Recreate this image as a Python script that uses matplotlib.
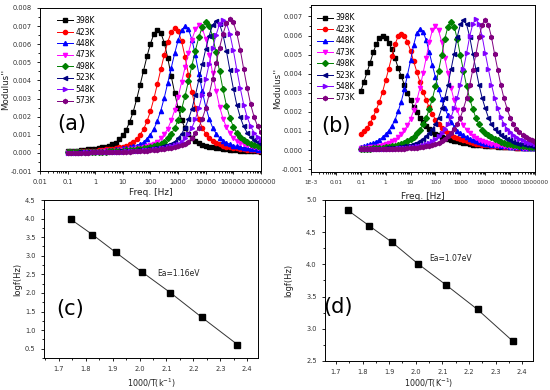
import numpy as np
import matplotlib
matplotlib.use("Agg")
import matplotlib.pyplot as plt
from matplotlib.ticker import LogLocator, NullFormatter, MultipleLocator

# ---- data ----------------------------------------------------------------
temps = ["398K", "423K", "448K", "473K", "498K", "523K", "548K", "573K"]
colors = ["#000000", "#ff0000", "#0000ff", "#ff00ff", "#008000", "#000080", "#8000ff", "#800080"]
markers = ["s", "o", "^", "v", "D", "<", ">", "h"]

# measurement sweep, 8 points per decade from 0.1 Hz to 1 MHz
freq = np.logspace(-1, 6, 57)

# panel (a): M'' in units of 1e-3
ma_398 = [0.095, 0.102, 0.116, 0.129, 0.150, 0.170, 0.190, 0.211, 0.238, 0.265, 0.299, 0.347, 0.394, 0.476, 0.571,
          0.768, 0.986, 1.285, 1.727, 2.271, 2.965, 3.754, 4.549, 5.338, 6.032, 6.576, 6.8, 6.623, 6.079, 5.236,
          4.25, 3.312, 2.468, 1.829, 1.36, 1.040, 0.809, 0.653, 0.544, 0.462, 0.394, 0.347, 0.306, 0.272, 0.245,
          0.218, 0.197, 0.177, 0.163, 0.150, 0.129, 0.116, 0.109, 0.095, 0.088, 0.082, 0.075]
ma_423 = [0.062, 0.062, 0.069, 0.076, 0.083, 0.097, 0.104, 0.117, 0.131, 0.152, 0.173, 0.193, 0.214, 0.242, 0.269,
          0.304, 0.352, 0.400, 0.483, 0.580, 0.780, 1.001, 1.304, 1.753, 2.305, 3.008, 3.809, 4.616, 5.417, 6.12,
          6.672, 6.9, 6.721, 6.169, 5.313, 4.313, 3.36, 2.505, 1.856, 1.38, 1.056, 0.821, 0.662, 0.552, 0.469,
          0.400, 0.352, 0.311, 0.276, 0.248, 0.221, 0.2, 0.179, 0.166, 0.152, 0.131, 0.117]
ma_448 = [0.049, 0.049, 0.056, 0.063, 0.063, 0.070, 0.077, 0.084, 0.098, 0.105, 0.119, 0.133, 0.154, 0.175, 0.196,
          0.217, 0.245, 0.273, 0.308, 0.357, 0.406, 0.49, 0.588, 0.791, 1.015, 1.323, 1.778, 2.338, 3.052, 3.864,
          4.683, 5.495, 6.209, 6.769, 7.0, 6.818, 6.258, 5.39, 4.375, 3.409, 2.541, 1.883, 1.4, 1.071, 0.833,
          0.672, 0.56, 0.476, 0.406, 0.357, 0.315, 0.28, 0.252, 0.224, 0.203, 0.182, 0.168]
ma_473 = [0.028, 0.035, 0.042, 0.042, 0.049, 0.049, 0.056, 0.063, 0.063, 0.071, 0.078, 0.085, 0.099, 0.106, 0.12,
          0.134, 0.155, 0.176, 0.197, 0.219, 0.247, 0.275, 0.31, 0.36, 0.409, 0.494, 0.592, 0.797, 1.022, 1.332,
          1.791, 2.355, 3.074, 3.892, 4.716, 5.534, 6.253, 6.817, 7.05, 6.867, 6.303, 5.429, 4.406, 3.433, 2.559,
          1.896, 1.41, 1.079, 0.839, 0.677, 0.564, 0.479, 0.409, 0.36, 0.317, 0.282, 0.254]
ma_498 = [0.029, 0.029, 0.029, 0.036, 0.043, 0.043, 0.05, 0.05, 0.058, 0.065, 0.065, 0.072, 0.079, 0.086, 0.101,
          0.108, 0.122, 0.137, 0.158, 0.18, 0.202, 0.223, 0.252, 0.281, 0.317, 0.367, 0.418, 0.504, 0.605, 0.814,
          1.044, 1.361, 1.829, 2.405, 3.139, 3.974, 4.817, 5.652, 6.386, 6.962, 7.2, 7.013, 6.437, 5.544, 4.5,
          3.506, 2.614, 1.937, 1.44, 1.102, 0.857, 0.691, 0.576, 0.49, 0.418, 0.367, 0.324]
ma_523 = [0.022, 0.022, 0.022, 0.029, 0.029, 0.029, 0.037, 0.044, 0.044, 0.051, 0.051, 0.058, 0.066, 0.066, 0.073,
          0.08, 0.088, 0.102, 0.11, 0.124, 0.139, 0.161, 0.183, 0.204, 0.226, 0.256, 0.285, 0.321, 0.372, 0.423,
          0.511, 0.613, 0.825, 1.059, 1.38, 1.854, 2.438, 3.183, 4.03, 4.884, 5.731, 6.475, 7.059, 7.3, 7.11,
          6.526, 5.621, 4.563, 3.555, 2.65, 1.964, 1.46, 1.117, 0.869, 0.701, 0.584, 0.496]
ma_548 = [0.015, 0.022, 0.022, 0.022, 0.022, 0.029, 0.029, 0.029, 0.037, 0.044, 0.044, 0.051, 0.051, 0.059, 0.066,
          0.066, 0.074, 0.081, 0.088, 0.103, 0.11, 0.125, 0.14, 0.162, 0.184, 0.206, 0.228, 0.257, 0.287, 0.323,
          0.375, 0.426, 0.515, 0.617, 0.831, 1.066, 1.389, 1.867, 2.455, 3.205, 4.057, 4.917, 5.77, 6.519, 7.107,
          7.35, 7.159, 6.571, 5.66, 4.594, 3.579, 2.668, 1.977, 1.47, 1.125, 0.875, 0.706]
ma_573 = [0.015, 0.015, 0.015, 0.022, 0.022, 0.022, 0.022, 0.03, 0.03, 0.03, 0.037, 0.044, 0.044, 0.052, 0.052,
          0.059, 0.067, 0.067, 0.074, 0.081, 0.089, 0.104, 0.111, 0.126, 0.141, 0.163, 0.185, 0.207, 0.229, 0.259,
          0.289, 0.326, 0.377, 0.429, 0.518, 0.622, 0.836, 1.073, 1.399, 1.88, 2.472, 3.226, 4.085, 4.951, 5.809,
          6.564, 7.156, 7.4, 7.208, 6.616, 5.698, 4.625, 3.604, 2.686, 1.991, 1.48, 1.132]

# panel (b): M'' in units of 1e-3
mb_398 = [3.08, 3.57, 4.07, 4.58, 5.12, 5.56, 5.85, 5.95, 5.87, 5.63, 5.27, 4.81, 4.31, 3.87, 3.42, 2.98, 2.61,
          2.26, 1.97, 1.70, 1.45, 1.26, 1.09, 0.95, 0.86, 0.78, 0.70, 0.64, 0.58, 0.53, 0.48, 0.45, 0.42, 0.37,
          0.35, 0.32, 0.29, 0.27, 0.26, 0.24, 0.23, 0.21, 0.20, 0.19, 0.18, 0.17, 0.16, 0.15, 0.14, 0.14, 0.13,
          0.12, 0.12, 0.11, 0.10, 0.10, 0.09]
mb_423 = [0.82, 0.98, 1.18, 1.42, 1.74, 2.12, 2.54, 3.05, 3.66, 4.27, 4.93, 5.54, 5.95, 6.1, 5.99, 5.67, 5.2,
          4.64, 4.1, 3.57, 3.05, 2.62, 2.23, 1.89, 1.59, 1.35, 1.15, 0.98, 0.87, 0.77, 0.69, 0.62, 0.56, 0.50,
          0.46, 0.42, 0.38, 0.34, 0.32, 0.29, 0.26, 0.24, 0.23, 0.22, 0.21, 0.20, 0.18, 0.17, 0.15, 0.15, 0.13,
          0.13, 0.12, 0.12, 0.11, 0.10, 0.09]
mb_448 = [0.18, 0.21, 0.25, 0.30, 0.36, 0.44, 0.54, 0.67, 0.83, 1.02, 1.27, 1.59, 2.03, 2.54, 3.18, 3.94, 4.7,
          5.52, 6.13, 6.35, 6.2, 5.77, 5.13, 4.45, 3.81, 3.18, 2.65, 2.2, 1.81, 1.48, 1.23, 1.02, 0.89, 0.77,
          0.68, 0.6, 0.53, 0.48, 0.43, 0.38, 0.34, 0.3, 0.28, 0.25, 0.24, 0.22, 0.21, 0.19, 0.17, 0.16, 0.15,
          0.14, 0.13, 0.12, 0.11, 0.10, 0.095]
mb_473 = [0.09, 0.10, 0.12, 0.14, 0.16, 0.18, 0.21, 0.25, 0.31, 0.37, 0.46, 0.55, 0.68, 0.85, 1.04, 1.3, 1.63,
          2.08, 2.6, 3.25, 4.03, 4.81, 5.66, 6.27, 6.5, 6.27, 5.66, 4.81, 4.03, 3.25, 2.6, 2.08, 1.63, 1.3, 1.04,
          0.88, 0.75, 0.65, 0.55, 0.49, 0.42, 0.37, 0.33, 0.29, 0.26, 0.24, 0.22, 0.2, 0.18, 0.16, 0.15, 0.14,
          0.13, 0.12, 0.10, 0.10, 0.09]
mb_498 = [0.057, 0.06, 0.067, 0.074, 0.084, 0.094, 0.107, 0.121, 0.141, 0.161, 0.188, 0.221, 0.261, 0.315, 0.382,
          0.469, 0.57, 0.704, 0.871, 1.072, 1.34, 1.675, 2.144, 2.68, 3.35, 4.154, 4.958, 5.829, 6.466, 6.7,
          6.466, 5.829, 4.958, 4.154, 3.35, 2.68, 2.144, 1.675, 1.34, 1.072, 0.911, 0.771, 0.67, 0.57, 0.503,
          0.436, 0.382, 0.335, 0.302, 0.268, 0.248, 0.228, 0.208, 0.188, 0.168, 0.154, 0.141]
mb_523 = [0.044, 0.048, 0.051, 0.055, 0.058, 0.061, 0.068, 0.075, 0.085, 0.095, 0.109, 0.123, 0.143, 0.164, 0.191,
          0.225, 0.266, 0.321, 0.389, 0.477, 0.58, 0.716, 0.887, 1.091, 1.364, 1.705, 2.182, 2.728, 3.41, 4.228,
          5.047, 5.933, 6.581, 6.82, 6.581, 5.933, 5.047, 4.228, 3.41, 2.728, 2.182, 1.705, 1.364, 1.091, 0.928,
          0.784, 0.682, 0.58, 0.512, 0.443, 0.389, 0.341, 0.307, 0.273, 0.252, 0.232, 0.211]
mb_548 = [0.038, 0.038, 0.041, 0.041, 0.045, 0.048, 0.051, 0.055, 0.058, 0.062, 0.069, 0.075, 0.086, 0.096, 0.11,
          0.123, 0.144, 0.164, 0.192, 0.226, 0.267, 0.322, 0.39, 0.48, 0.582, 0.719, 0.891, 1.096, 1.37, 1.713,
          2.192, 2.74, 3.425, 4.247, 5.069, 5.96, 6.61, 6.85, 6.61, 5.96, 5.069, 4.247, 3.425, 2.74, 2.192,
          1.713, 1.37, 1.096, 0.932, 0.788, 0.685, 0.582, 0.514, 0.445, 0.39, 0.343, 0.308]
mb_573 = [0.034, 0.034, 0.034, 0.037, 0.037, 0.041, 0.041, 0.044, 0.048, 0.051, 0.054, 0.058, 0.061, 0.068, 0.075,
          0.085, 0.095, 0.109, 0.122, 0.143, 0.163, 0.19, 0.224, 0.265, 0.32, 0.388, 0.476, 0.578, 0.714, 0.884,
          1.088, 1.36, 1.7, 2.176, 2.72, 3.4, 4.216, 5.032, 5.916, 6.562, 6.8, 6.562, 5.916, 5.032, 4.216, 3.4,
          2.72, 2.176, 1.7, 1.36, 1.088, 0.925, 0.782, 0.68, 0.578, 0.51, 0.442]

ma = [ma_398, ma_423, ma_448, ma_473, ma_498, ma_523, ma_548, ma_573]
mb = [mb_398, mb_423, mb_448, mb_473, mb_498, mb_523, mb_548, mb_573]

# panels (c), (d): Arrhenius plots
inv_T = [1.745, 1.825, 1.912, 2.008, 2.114, 2.232, 2.364]
logf_c = [3.98, 3.57, 3.09, 2.57, 2.01, 1.34, 0.61]
logf_d = [4.84, 4.60, 4.34, 4.01, 3.68, 3.30, 2.81]

xt_a = [0.01, 0.1, 1, 10, 100, 1000, 10000, 100000, 1000000]
xl_a = ["0.01", "0.1", "1", "10", "100", "1000", "10000", "100000", "1000000"]
xt_b = [0.001] + xt_a
xl_b = ["1E-3"] + xl_a
yt_a = [-0.001, 0.0, 0.001, 0.002, 0.003, 0.004, 0.005, 0.006, 0.007, 0.008]
yt_b = yt_a[:-1]

# ---- drawing ------------------------------------------------------------
tick_col = "#333333"
fig = plt.figure(figsize=(5.5, 3.9), dpi=100)


def style(ax, xsize=4.8):
    for s in ax.spines.values():
        s.set_linewidth(0.7)
    ax.tick_params(which="both", direction="out", labelsize=4.8, labelcolor=tick_col,
                   width=0.6, top=False, right=False)
    ax.tick_params(axis="x", labelsize=xsize)
    ax.tick_params(which="major", length=2.5)
    ax.tick_params(which="minor", length=1.5)


def modulus_panel(rect, data, xt, xl, yt, ylim, tag, tagpos, lab_x, xlab_y, leg_anchor, xsize):
    ax = fig.add_axes(rect)
    for vals, t, c, m in zip(data, temps, colors, markers):
        ax.plot(freq, np.array(vals) * 1e-3, color=c, marker=m, ms=3.0, mec=c, mfc=c,
                lw=0.7, label=t)
    ax.set_xscale("log")
    ax.set_xlim(xt[0], xt[-1])
    ax.set_ylim(*ylim)
    ax.set_xticks(xt, xl)
    ax.xaxis.set_minor_locator(LogLocator(base=10, subs=np.arange(2, 10), numticks=20))
    ax.xaxis.set_minor_formatter(NullFormatter())
    ax.set_yticks(yt, [f"{v:.3f}" for v in yt])
    ax.yaxis.set_minor_locator(MultipleLocator(0.0005))
    style(ax, xsize)
    ax.set_ylabel("Modulus''", fontsize=6.2, color="#222222")
    ax.yaxis.set_label_coords(lab_x, 0.5)
    ax.set_xlabel("Freq. [Hz]", fontsize=6.5, color="#222222")
    ax.xaxis.set_label_coords(0.5, xlab_y)
    ax.text(tagpos[0], tagpos[1], tag, transform=ax.transAxes, fontsize=15,
            ha="center", va="center")
    ax.legend(loc="upper left", bbox_to_anchor=leg_anchor, frameon=False, fontsize=5.5,
              handlelength=2.2, handletextpad=0.3, labelspacing=0.32, borderpad=0,
              borderaxespad=0)
    return ax


modulus_panel([0.0727, 0.5615, 0.4018, 0.418], ma, xt_a, xl_a, yt_a, (-0.001, 0.008),
              "(a)", (0.145, 0.288), -0.135, -0.104, (0.075, 0.95), 4.8)
modulus_panel([0.5655, 0.559, 0.4073, 0.4282], mb, xt_b, xl_b, yt_b, (-0.00115, 0.0076),
              "(b)", (0.112, 0.275), -0.13, -0.12, (0.025, 0.95), 4.2)


def arrhenius_panel(rect, y, xlim, ylim, yt, tag, tagpos, note, notepos, xlab, lab_x, xlab_y):
    ax = fig.add_axes(rect)
    ax.plot(inv_T, y, color="#333333", lw=0.7, marker="s", ms=3.8, mfc="black", mec="black")
    ax.set_xlim(*xlim)
    ax.set_ylim(*ylim)
    ax.set_xticks(np.arange(1.7, 2.45, 0.1))
    ax.xaxis.set_major_formatter(plt.FormatStrFormatter("%.1f"))
    ax.set_yticks(yt)
    ax.yaxis.set_major_formatter(plt.FormatStrFormatter("%.1f"))
    ax.xaxis.set_minor_locator(MultipleLocator(0.05))
    ax.yaxis.set_minor_locator(MultipleLocator(0.25))
    style(ax)
    ax.set_ylabel("logf(Hz)", fontsize=6, color="#222222")
    ax.yaxis.set_label_coords(lab_x, 0.5)
    ax.set_xlabel(xlab, fontsize=5.8, color="#222222")
    ax.xaxis.set_label_coords(0.5, xlab_y)
    ax.text(tagpos[0], tagpos[1], tag, transform=ax.transAxes, fontsize=15,
            ha="center", va="center")
    ax.text(notepos[0], notepos[1], note, transform=ax.transAxes, fontsize=5.5,
            ha="center", va="center", color="#222222")
    return ax


arrhenius_panel([0.08, 0.0821, 0.389, 0.405], logf_c, (1.645, 2.44), (0.25, 4.5),
                np.arange(0.5, 4.51, 0.5), "(c)", (0.121, 0.31), "Ea=1.16eV", (0.63, 0.538),
                "1000/T(k$^{-1}$)", -0.103, -0.12)
arrhenius_panel([0.5909, 0.0744, 0.378, 0.4128], logf_d, (1.659, 2.44), (2.5, 5.0),
                np.arange(2.5, 5.01, 0.5), "(d)", (0.0625, 0.335), "Ea=1.07eV", (0.606, 0.634),
                "1000/T(K$^{-1}$)", -0.154, -0.1)

fig.savefig("out.png", dpi=100)
